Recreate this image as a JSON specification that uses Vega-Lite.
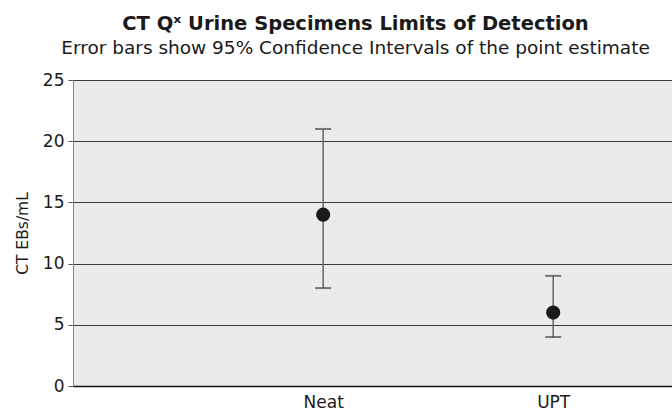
{
  "$schema": "https://vega.github.io/schema/vega-lite/v6.json",
  "autosize": {"type": "none"},
  "width": 599,
  "height": 306,
  "padding": {"left": 73, "top": 80, "right": 0, "bottom": 29},
  "background": "white",
  "config": {
    "view": {"fill": "#ebebed", "stroke": null},
    "font": "DejaVu Sans"
  },
  "title": {
    "text": "CT Qˣ Urine Specimens Limits of Detection",
    "subtitle": "Error bars show 95% Confidence Intervals of the point estimate",
    "anchor": "middle",
    "frame": "group",
    "fontSize": 19.5,
    "fontWeight": "bold",
    "color": "#1a1a1a",
    "subtitleFontSize": 18.5,
    "subtitleColor": "#1a1a1a",
    "subtitlePadding": 4,
    "offset": 13,
    "dx": -17,
    "font": "DejaVu Sans",
    "subtitleFont": "DejaVu Sans"
  },
  "data": {
    "values": [
      {"specimen": "Neat", "lod": 14, "lower": 8, "upper": 21},
      {"specimen": "UPT", "lod": 6, "lower": 4, "upper": 9}
    ]
  },
  "encoding": {
    "x": {
      "field": "specimen",
      "type": "nominal",
      "scale": {"type": "point", "padding": 0.802, "align": 0.678},
      "axis": {
        "title": null,
        "labelAngle": 0,
        "labelFontSize": 17,
        "labelColor": "#1a1a1a",
        "labelPadding": 8,
        "ticks": false,
        "domainColor": "#111",
        "domainWidth": 1.5,
        "grid": false
      }
    }
  },
  "layer": [
    {
      "mark": {"type": "rule", "color": "#666", "strokeWidth": 1.5},
      "encoding": {
        "y": {
          "field": "lower",
          "type": "quantitative",
          "scale": {"domain": [0, 25], "nice": false},
          "axis": {
            "title": "CT EBs/mL",
            "titleFontSize": 15.5,
            "titleFontWeight": "normal",
            "titleColor": "#1a1a1a",
            "titlePadding": 12,
            "values": [0, 5, 10, 15, 20, 25],
            "labelFontSize": 17,
            "labelColor": "#1a1a1a",
            "labelPadding": 4,
            "tickSize": 5,
            "tickColor": "#555",
            "domainColor": "#888",
            "grid": true,
            "gridColor": "#3a3a3a",
            "gridWidth": 1
          }
        },
        "y2": {"field": "upper"}
      }
    },
    {
      "mark": {"type": "tick", "color": "#444", "thickness": 2, "size": 16},
      "encoding": {"y": {"field": "upper", "type": "quantitative"}}
    },
    {
      "mark": {"type": "tick", "color": "#444", "thickness": 2, "size": 16},
      "encoding": {"y": {"field": "lower", "type": "quantitative"}}
    },
    {
      "mark": {"type": "circle", "color": "#1a1a1a", "opacity": 1, "size": 200},
      "encoding": {"y": {"field": "lod", "type": "quantitative"}}
    }
  ]
}
